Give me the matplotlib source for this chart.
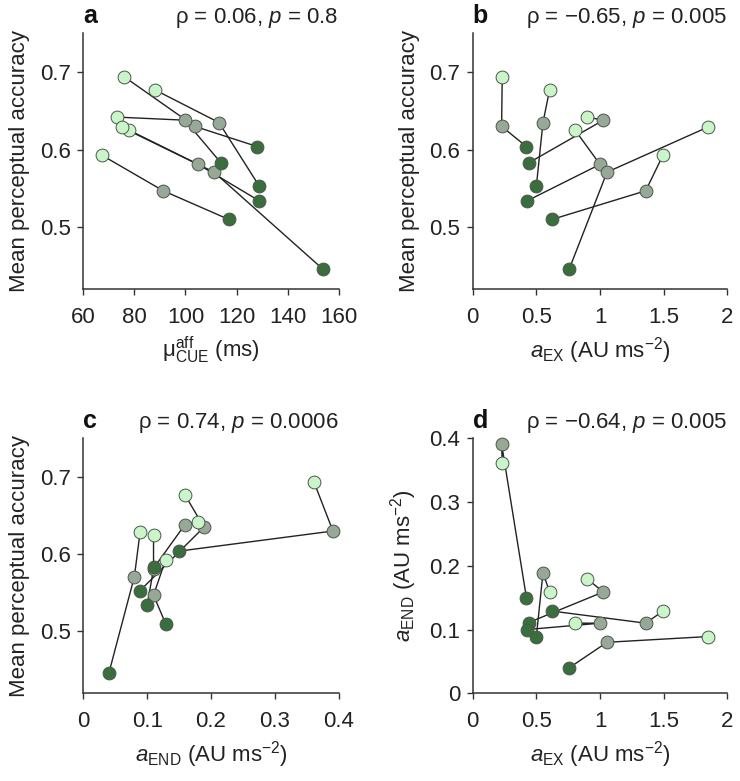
import matplotlib
matplotlib.use("Agg")
import matplotlib.pyplot as plt

plt.rcParams['font.family'] = ['Liberation Sans', 'DejaVu Sans']
plt.rcParams['mathtext.fontset'] = 'custom'
plt.rcParams['mathtext.rm'] = 'Liberation Sans'
plt.rcParams['mathtext.it'] = 'Liberation Sans:italic'
plt.rcParams['mathtext.bf'] = 'Liberation Sans:bold'

# Per-subject values, columns = conditions (light, gray, dark)
mu_cue = [
    [76.0, 103.7, 128.1],
    [88.1, 113.1, 128.9],
    [73.1, 99.8, 113.9],
    [78.0, 105.0, 128.9],
    [75.0, 111.2, 153.8],
    [67.2, 91.3, 117.0],
]
accuracy = [
    [0.694, 0.630, 0.604],
    [0.677, 0.635, 0.553],
    [0.642, 0.638, 0.583],
    [0.625, 0.581, 0.534],
    [0.629, 0.571, 0.446],
    [0.593, 0.547, 0.510],
]
a_ex = [
    [0.232, 0.227, 0.422],
    [0.604, 0.552, 0.500],
    [0.901, 1.026, 0.440],
    [0.805, 1.000, 0.427],
    [1.846, 1.055, 0.758],
    [1.495, 1.359, 0.622],
]
a_end = [
    [0.361, 0.391, 0.150],
    [0.159, 0.189, 0.089],
    [0.179, 0.159, 0.111],
    [0.110, 0.110, 0.100],
    [0.089, 0.080, 0.040],
    [0.129, 0.110, 0.129],
]

cond_colors = ['#c9f5c9', '#97a897', '#3b6e3d']
draw_order = [1, 0, 2]

panel_letters = ['a', 'b', 'c', 'd']
stats_text = [r'ρ = 0.06, $p$ = 0.8', r'ρ = −0.65, $p$ = 0.005',
              r'ρ = 0.74, $p$ = 0.0006', r'ρ = −0.64, $p$ = 0.005']

xlabel_mu = r'$\mathrm{\mu}^{\rm aff}_{\rm CUE}$ (ms)'
xlabel_aex = r'$a_{\rm EX}$ (AU ms$^{-2}$)'
xlabel_aend = r'$a_{\rm END}$ (AU ms$^{-2}$)'
ylabel_acc = 'Mean perceptual accuracy'

W, H = 740, 781
fig = plt.figure(figsize=(W / 100, H / 100), dpi=100)

def mk(l, r, t, b):
    return fig.add_axes([l / W, 1 - b / H, (r - l) / W, (b - t) / H])

ax_a = mk(83.3, 338.7, 33.3, 289.3)
ax_b = mk(472.7, 727.3, 33.3, 289.3)
ax_c = mk(83.3, 338.7, 438.3, 693.3)
ax_d = mk(472.7, 727.3, 438.3, 693.3)

panels = [
    (ax_a, mu_cue, accuracy, xlabel_mu, ylabel_acc, (60, 160), [60, 80, 100, 120, 140, 160], ['60', '80', '100', '120', '140', '160'],
     (0.42, 0.75), [0.5, 0.6, 0.7], ['0.5', '0.6', '0.7']),
    (ax_b, a_ex, accuracy, xlabel_aex, ylabel_acc, (0, 2), [0, 0.5, 1, 1.5, 2], ['0', '0.5', '1', '1.5', '2'],
     (0.42, 0.75), [0.5, 0.6, 0.7], ['0.5', '0.6', '0.7']),
    (ax_c, a_end, accuracy, xlabel_aend, ylabel_acc, (0, 0.4), [0, 0.1, 0.2, 0.3, 0.4], ['0', '0.1', '0.2', '0.3', '0.4'],
     (0.42, 0.75), [0.5, 0.6, 0.7], ['0.5', '0.6', '0.7']),
    (ax_d, a_ex, a_end, xlabel_aex, xlabel_aend, (0, 2), [0, 0.5, 1, 1.5, 2], ['0', '0.5', '1', '1.5', '2'],
     (0, 0.4), [0, 0.1, 0.2, 0.3, 0.4], ['0', '0.1', '0.2', '0.3', '0.4']),
]

fs = 16
for i, (ax, xs, ys, xl, yl, xlim, xt, xtl, ylim, yt, ytl) in enumerate(panels):
    for sx, sy in zip(xs, ys):
        ax.plot(sx, sy, color='#222222', lw=1.0, zorder=2, clip_on=False)
    for c in draw_order:
        ax.scatter([s[c] for s in xs], [s[c] for s in ys], s=85,
                   facecolor=cond_colors[c], edgecolor='#4a564a', linewidth=0.7,
                   zorder=3, clip_on=False)
    ax.set_xlim(*xlim)
    ax.set_ylim(*ylim)
    ax.set_xticks(xt)
    ax.set_xticklabels(xtl)
    ax.set_yticks(yt)
    ax.set_yticklabels(ytl)
    ax.spines['top'].set_visible(False)
    ax.spines['right'].set_visible(False)
    for sp in ['left', 'bottom']:
        ax.spines[sp].set_linewidth(1.1)
        ax.spines[sp].set_color('#333333')
    ax.tick_params(axis='both', direction='out', length=4, width=1.0, color='#333333',
                   labelsize=fs, labelcolor='#222222')
    ax.tick_params(axis='x', pad=9)
    ax.tick_params(axis='y', pad=5)
    ax.set_xlabel(xl, fontsize=fs, color='#222222', labelpad=5)
    ax.set_ylabel(yl, fontsize=fs, color='#222222', labelpad=7)
    ax.annotate(panel_letters[i], xy=(0, 1), xycoords='axes fraction', xytext=(0, 7.5),
                textcoords='offset points', ha='left', va='baseline',
                fontsize=18, fontweight='bold', color='#111111')
    ax.annotate(stats_text[i], xy=(1, 1), xycoords='axes fraction', xytext=(0, 7.5),
                textcoords='offset points', ha='right', va='baseline',
                fontsize=fs, color='#222222')

fig.savefig('out.png', dpi=100)
